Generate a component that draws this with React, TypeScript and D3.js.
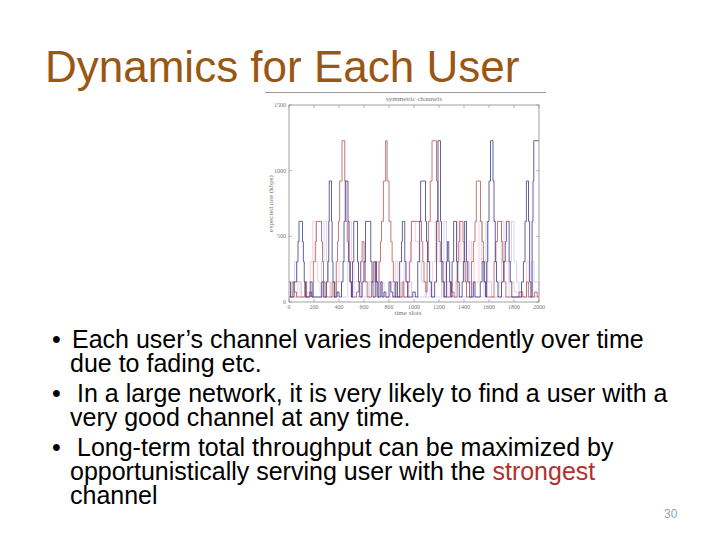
import React from 'react';
import * as d3 from 'd3';

// step series: [time slot, expected rate kbps]
const userNavy: [number, number][] = [
  [0, 153], [12, 38], [40, 153], [62, 307], [72, 460], [80, 614], [108, 460], [115, 307], [122, 153], [132, 38],
  [170, 153], [185, 38], [262, 153], [275, 38], [300, 153], [310, 307], [318, 614], [322, 921], [340, 614],
  [345, 307], [352, 153], [365, 38], [385, 76], [400, 38], [420, 153], [432, 307], [440, 614], [450, 921],
  [472, 614], [480, 307], [490, 153], [500, 38], [508, 307], [518, 614], [548, 307], [556, 153], [566, 38],
  [585, 153], [600, 307], [612, 614], [654, 307], [664, 153], [672, 38], [690, 307], [700, 153], [712, 38],
  [735, 153], [745, 38], [760, 76], [775, 38], [800, 153], [815, 76], [830, 38], [855, 153], [868, 38],
  [885, 307], [900, 460], [907, 614], [926, 307], [935, 153], [950, 38], [990, 76], [1010, 38], [1030, 307],
  [1045, 614], [1053, 921], [1092, 614], [1100, 460], [1108, 307], [1125, 153], [1140, 38], [1165, 153],
  [1180, 614], [1192, 1228], [1212, 614], [1220, 307], [1232, 153], [1245, 38], [1260, 307], [1267, 460],
  [1278, 307], [1285, 153], [1295, 38], [1305, 307], [1317, 614], [1340, 307], [1350, 153], [1362, 38],
  [1385, 153], [1395, 307], [1405, 614], [1420, 307], [1430, 153], [1445, 38], [1475, 153], [1488, 38],
  [1530, 153], [1545, 307], [1560, 153], [1572, 38], [1582, 307], [1590, 614], [1600, 921], [1612, 1228],
  [1632, 921], [1640, 614], [1650, 307], [1660, 153], [1672, 38], [1700, 153], [1715, 307], [1730, 460],
  [1739, 614], [1761, 307], [1770, 153], [1782, 38], [1860, 153], [1875, 307], [1888, 614], [1899, 921],
  [1916, 614], [1925, 153], [1935, 38], [1945, 614], [1952, 921], [1958, 1228], [1993, 1228], [2000, 1228],
];

const userRed: [number, number][] = [
  [0, 38], [25, 153], [40, 76], [60, 38], [125, 153], [140, 38], [165, 76], [180, 38], [195, 307], [210, 460],
  [219, 614], [260, 460], [268, 307], [276, 153], [288, 38], [345, 153], [360, 38], [378, 307], [388, 460],
  [395, 614], [405, 921], [424, 1228], [446, 921], [456, 614], [466, 460], [476, 307], [486, 153], [498, 38],
  [540, 76], [560, 153], [572, 307], [585, 460], [600, 307], [610, 153], [625, 38], [660, 153], [675, 307],
  [690, 153], [705, 38], [720, 307], [732, 460], [740, 614], [755, 921], [773, 1228], [785, 921], [800, 614],
  [815, 460], [825, 307], [835, 153], [848, 38], [905, 153], [918, 38], [950, 153], [965, 307], [975, 460],
  [979, 614], [1060, 460], [1070, 307], [1080, 153], [1095, 76], [1105, 307], [1115, 614], [1130, 921],
  [1144, 1228], [1180, 921], [1190, 614], [1200, 460], [1210, 307], [1222, 153], [1235, 38], [1290, 153],
  [1300, 76], [1320, 38], [1345, 307], [1358, 460], [1365, 614], [1392, 460], [1400, 307], [1410, 153],
  [1420, 38], [1460, 307], [1475, 460], [1488, 614], [1499, 921], [1532, 614], [1545, 460], [1555, 307],
  [1565, 153], [1578, 38], [1640, 307], [1655, 460], [1668, 614], [1700, 460], [1710, 307], [1722, 153],
  [1735, 38], [1840, 76], [1870, 38], [1900, 153], [1915, 38], [1965, 76], [1985, 38], [2000, 38],
];

const userPink: [number, number][] = [
  [0, 76], [30, 38], [70, 153], [90, 38], [140, 153], [170, 307], [190, 614], [215, 307], [230, 153], [250, 38],
  [290, 153], [330, 38], [370, 153], [400, 307], [480, 614], [500, 307], [520, 153], [560, 38], [640, 153],
  [700, 307], [720, 153], [760, 38], [850, 307], [870, 153], [890, 38], [960, 307], [980, 614], [1010, 460],
  [1040, 307], [1060, 153], [1090, 38], [1150, 307], [1170, 614], [1190, 307], [1250, 153], [1270, 38],
  [1330, 153], [1350, 614], [1375, 307], [1400, 153], [1440, 460], [1460, 307], [1480, 153], [1520, 614],
  [1540, 307], [1580, 153], [1620, 38], [1700, 614], [1720, 307], [1760, 153], [1800, 76], [1850, 38],
  [1900, 307], [1920, 153], [1950, 38], [2000, 38],
];

const userLavender: [number, number][] = [
  [0, 38], [45, 307], [60, 153], [100, 38], [150, 76], [190, 38], [260, 307], [280, 614], [300, 307], [315, 153],
  [330, 38], [380, 153], [420, 38], [470, 307], [490, 153], [520, 38], [580, 307], [600, 153], [640, 38],
  [700, 153], [730, 38], [810, 153], [840, 38], [920, 307], [940, 153], [980, 38], [1100, 153], [1130, 38],
  [1220, 307], [1240, 614], [1260, 153], [1300, 38], [1420, 307], [1440, 153], [1470, 38], [1560, 307],
  [1575, 614], [1590, 153], [1620, 38], [1680, 153], [1700, 38], [1760, 307], [1780, 614], [1800, 307],
  [1820, 153], [1840, 38], [1940, 307], [1960, 153], [2000, 38],
];

const xTicks = [0, 200, 400, 600, 800, 1000, 1200, 1400, 1600, 1800, 2000];
const yTicks = [0, 500, 1000, 1500];

const series = [
  { data: userLavender, color: '#cdc8f2' },
  { data: userPink, color: '#f5c3cf' },
  { data: userRed, color: '#b0585c' },
  { data: userNavy, color: '#3c3a86' },
];

const bullets = [
  { bullet: true, x: 72, y: 348, parts: [{ t: 'Each user’s channel varies independently over time' }] },
  { bullet: false, x: 70, y: 372, parts: [{ t: 'due to fading etc.' }] },
  { bullet: true, x: 77, y: 402, parts: [{ t: 'In a large network, it is very likely to find a user with a' }] },
  { bullet: false, x: 70, y: 426, parts: [{ t: 'very good channel at any time.' }] },
  { bullet: true, x: 77, y: 456, parts: [{ t: 'Long-term total throughput can be maximized by' }] },
  { bullet: false, x: 70, y: 480, parts: [{ t: 'opportunistically serving user with the ' }, { t: 'strongest', red: true }] },
  { bullet: false, x: 70, y: 504, parts: [{ t: 'channel' }] },
];

export default function App() {
  const left = 289, right = 539, top = 105, bottom = 302;
  const x = d3.scaleLinear().domain([0, 2000]).range([left, right]);
  const y = d3.scaleLinear().domain([0, 1500]).range([bottom, top]);
  const line = d3.line<[number, number]>()
    .x((d) => x(d[0]))
    .y((d) => y(d[1]))
    .curve(d3.curveStepAfter);
  const serif = 'Liberation Serif, DejaVu Serif, serif';
  const sans = 'Liberation Sans, Arial, sans-serif';

  return (
    <svg width={720} height={540} style={{ position: 'absolute', left: 0, top: 0, background: '#fff' }}>
      <text x={45} y={82} fontFamily={sans} fontSize={44} fill="#9a5714">Dynamics for Each User</text>

      {/* chart image */}
      <line x1={265} x2={546} y1={92.5} y2={92.5} stroke="#999" strokeWidth={1} />
      <text x={(left + right) / 2} y={101} textAnchor="middle" fontFamily={serif} fontSize={7} fill="#777">symmetric channels</text>
      <g>
        {series.map((s, i) => (
          <path key={i} d={line(s.data) || ''} fill="none" stroke={s.color} strokeWidth={0.8} />
        ))}
      </g>
      <rect x={left} y={top} width={right - left} height={bottom - top} fill="none" stroke="#8a8a8a" strokeWidth={0.8} />
      {xTicks.map((t) => (
        <g key={'x' + t}>
          <line x1={x(t)} x2={x(t)} y1={bottom} y2={bottom - 3} stroke="#8a8a8a" strokeWidth={0.6} />
          <line x1={x(t)} x2={x(t)} y1={top} y2={top + 3} stroke="#8a8a8a" strokeWidth={0.6} />
          <text x={x(t)} y={bottom + 7} textAnchor="middle" fontFamily={serif} fontSize={6} fill="#777">{t}</text>
        </g>
      ))}
      {yTicks.map((t) => (
        <g key={'y' + t}>
          <line x1={left} x2={left + 3} y1={y(t)} y2={y(t)} stroke="#8a8a8a" strokeWidth={0.6} />
          <line x1={right} x2={right - 3} y1={y(t)} y2={y(t)} stroke="#8a8a8a" strokeWidth={0.6} />
          <text x={left - 3} y={y(t) + 2} textAnchor="end" fontFamily={serif} fontSize={6} fill="#777">{t}</text>
        </g>
      ))}
      <text x={408} y={315} textAnchor="middle" fontFamily={serif} fontSize={7} fill="#777">time slots</text>
      <text transform={`translate(273, ${(top + bottom) / 2}) rotate(-90)`} textAnchor="middle" fontFamily={serif} fontSize={7} fill="#777">expected rate (kbps)</text>

      {/* bullets */}
      {bullets.map((b, i) => (
        <g key={i}>
          {b.bullet && <text x={52} y={b.y} fontFamily={sans} fontSize={25} fill="#000">•</text>}
          <text x={b.x} y={b.y} fontFamily={sans} fontSize={25} fill="#000">
            {b.parts.map((p, j) => (
              <tspan key={j} fill={p.red ? '#b3302c' : '#000'}>{p.t}</tspan>
            ))}
          </text>
        </g>
      ))}
      <text x={664} y={518} fontFamily={sans} fontSize={12} fill="#8fa4b8">30</text>
    </svg>
  );
}
